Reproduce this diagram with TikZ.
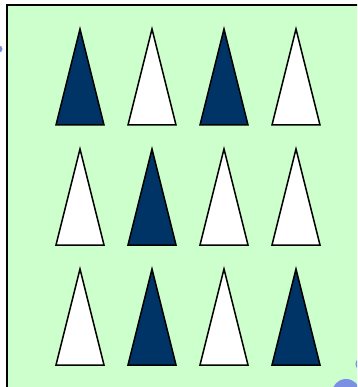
\documentclass[tikz,border=0pt]{standalone}
\usetikzlibrary{positioning}
\definecolor{panel}{HTML}{CCFFCC}
\definecolor{navy}{HTML}{003366}
\definecolor{handle}{HTML}{7B8FE3}

\begin{document}
\begin{tikzpicture}[
  x=1pt, y=-1pt,
  frame/.style={draw=black, line width=1.8pt, fill=panel},
  cone/.style={draw=black, line width=1.5pt, line join=miter},
  dot/.style={fill=handle}
]
\useasboundingbox (0,0) rectangle (357,387);

\begin{scope}
  \clip (0,0) rectangle (357,387);
  \draw[frame] (7,5) rectangle (375,405);
  \fill[dot] (-1,49) circle (3.5);
  \fill[dot] (362,364) circle (6.5);
  \fill[dot] (346,393) circle (14);
\end{scope}

% rows of cones, apex at (\cx,\cy)
\foreach \cx/\cy/\shade in {
  80/29/navy, 152/29/white, 224/29/navy, 296/29/white,
  80/149/white, 152/149/navy, 224/149/white, 296/149/white,
  80/269/white, 152/269/navy, 224/269/white, 296/269/navy}
{
  \draw[cone, fill=\shade] (\cx-24,\cy+96) -- (\cx,\cy) -- (\cx+24,\cy+96) -- cycle;
}

\end{tikzpicture}
\end{document}
